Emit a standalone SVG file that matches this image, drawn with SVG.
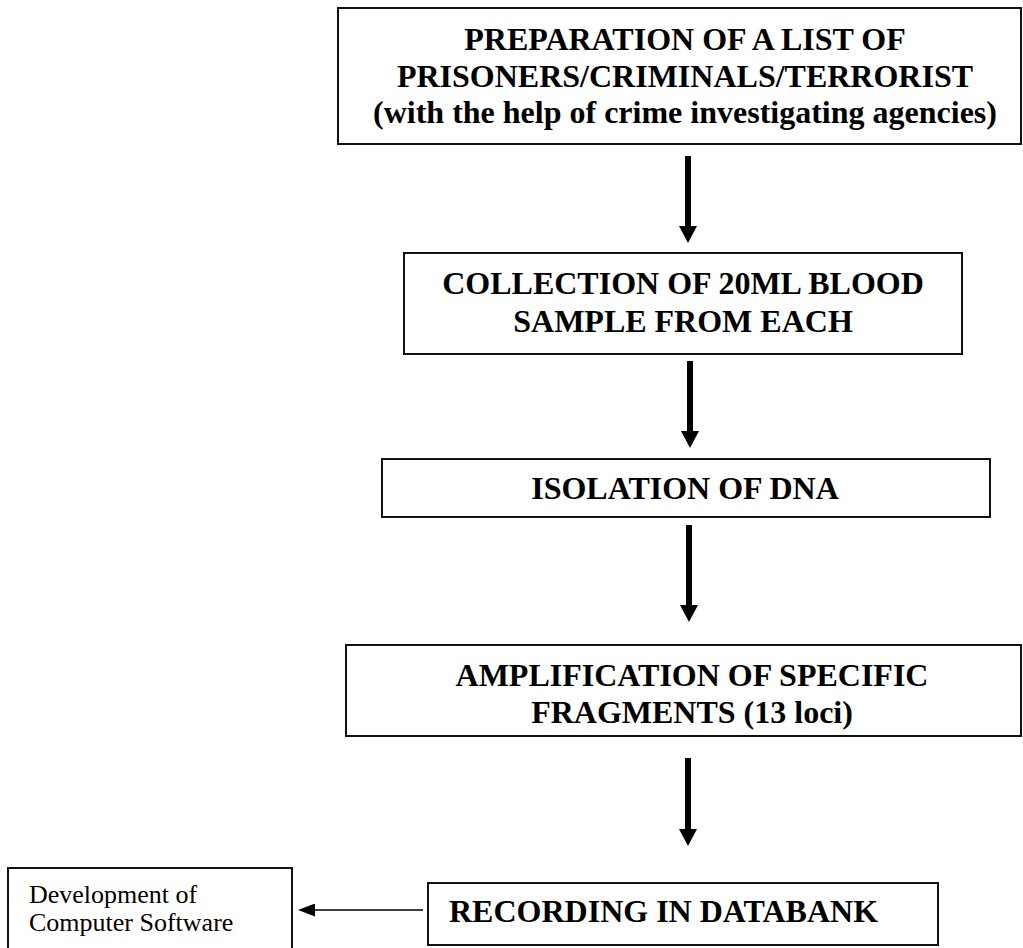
<svg xmlns="http://www.w3.org/2000/svg" width="1023" height="948" viewBox="0 0 1023 948">
  <style>
    .box { fill: #ffffff; stroke: #111111; stroke-width: 2; }
    .t { font-family: "Liberation Serif", "Times New Roman", serif; font-size: 32px; font-weight: bold; fill: #000000; text-anchor: middle; }
    .s { font-family: "Liberation Serif", "Times New Roman", serif; font-size: 26px; fill: #000000; }
    .shaft { stroke: #000000; stroke-width: 6; fill: none; }
    .thin { stroke: #000000; stroke-width: 1.5; fill: none; }
  </style>
  <defs>
    <marker id="bigHead" viewBox="0 -9 17 18" markerUnits="userSpaceOnUse" markerWidth="17" markerHeight="18" refX="1" refY="0" orient="auto">
      <path d="M0,-9 L17,0 L0,9 Z" fill="#000000"/>
    </marker>
    <marker id="smallHead" viewBox="0 -6.5 17 13" markerUnits="userSpaceOnUse" markerWidth="17" markerHeight="13" refX="1" refY="0" orient="auto">
      <path d="M0,-6.5 L17,0 L0,6.5 Z" fill="#000000"/>
    </marker>
  </defs>
  <rect width="1023" height="948" fill="#ffffff"/>

  <g id="connectors">
    <line class="shaft" x1="688" y1="156" x2="688" y2="227" marker-end="url(#bigHead)"/>
    <line class="shaft" x1="690" y1="361" x2="690" y2="432" marker-end="url(#bigHead)"/>
    <line class="shaft" x1="689" y1="525" x2="689" y2="606" marker-end="url(#bigHead)"/>
    <line class="shaft" x1="688" y1="758" x2="688" y2="830" marker-end="url(#bigHead)"/>
    <line class="thin" x1="423" y1="910" x2="314" y2="910" marker-end="url(#smallHead)"/>
  </g>

  <g id="node-preparation">
    <rect class="box" x="338" y="8" width="683" height="136"/>
    <text class="t" x="685" y="50">PREPARATION OF A LIST OF</text>
    <text class="t" x="685" y="87">PRISONERS/CRIMINALS/TERRORIST</text>
    <text class="t" x="685" y="123">(with the help of crime investigating agencies)</text>
  </g>

  <g id="node-collection">
    <rect class="box" x="404" y="253" width="558" height="101"/>
    <text class="t" x="683" y="294">COLLECTION OF 20ML BLOOD</text>
    <text class="t" x="683" y="332">SAMPLE FROM EACH</text>
  </g>

  <g id="node-isolation">
    <rect class="box" x="382" y="459" width="608" height="58"/>
    <text class="t" x="685" y="499">ISOLATION OF DNA</text>
  </g>

  <g id="node-amplification">
    <rect class="box" x="346" y="645" width="675" height="91"/>
    <text class="t" x="692" y="686">AMPLIFICATION OF SPECIFIC</text>
    <text class="t" x="692" y="723">FRAGMENTS (13 loci)</text>
  </g>

  <g id="node-recording">
    <rect class="box" x="428" y="883" width="510" height="62"/>
    <text class="t" x="449" y="922" style="text-anchor:start">RECORDING IN DATABANK</text>
  </g>

  <g id="node-software">
    <rect class="box" x="8" y="868" width="284" height="90"/>
    <text class="s" x="29" y="903">Development of</text>
    <text class="s" x="29" y="931">Computer Software</text>
  </g>
</svg>
